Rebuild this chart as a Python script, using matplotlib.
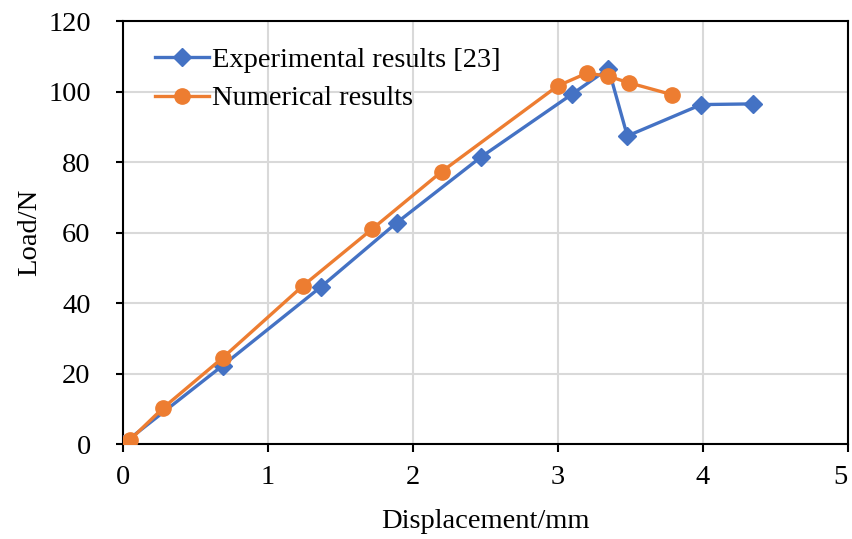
import numpy as np
import matplotlib.pyplot as plt

# Data
expDisp = [0.0, 0.69, 1.37, 1.89, 2.47, 3.10, 3.35, 3.48, 3.99, 4.35]
expLoad = [0.0, 22.3, 44.7, 62.8, 81.4, 99.3, 106.5, 87.4, 96.3, 96.5]

numDisp = [0.03, 0.05, 0.28, 0.69, 1.24, 1.72, 2.20, 3.00, 3.20, 3.345, 3.49, 3.79]
numLoad = [0.0, 1.2, 10.3, 24.5, 44.8, 61.0, 77.3, 101.6, 105.2, 104.4, 102.5, 99.1]

xTicks = [0, 1, 2, 3, 4, 5]
yTicks = [0, 20, 40, 60, 80, 100, 120]

plt.rcParams['font.family'] = ['Liberation Serif', 'DejaVu Serif']
plt.rcParams['font.size'] = 20.5

fig = plt.figure(figsize=(8.52, 5.39), dpi=100)
ax = fig.add_axes([0.144, 0.176, 0.851, 0.785])

ax.plot(expDisp, expLoad, color='#4472C4', linewidth=2.4, marker='D', markersize=9.5,
        label='Experimental results [23]', zorder=3)
ax.plot(numDisp, numLoad, color='#ED7D31', linewidth=2.4, marker='o', markersize=11,
        label='Numerical results', zorder=4)

ax.set_xlim(0, 5)
ax.set_ylim(0, 120)
ax.set_xticks(xTicks)
ax.set_yticks(yTicks)

ax.grid(True, color='#d9d9d9', linewidth=1.5)
ax.set_axisbelow(True)
for s in ax.spines.values():
    s.set_linewidth(1.5)
    s.set_color('black')
ax.tick_params(axis='y', direction='out', length=5, width=1.5, pad=18)
ax.tick_params(axis='x', direction='out', length=6, width=1.5, pad=9)

# keep the last x label inside the figure
ax.get_xticklabels()[-1].set_horizontalalignment('right')

ax.set_xlabel('Displacement/mm', labelpad=14)
ax.set_ylabel('Load/N', labelpad=4)

ax.legend(loc='upper left', frameon=False, handlelength=1.9, handletextpad=0.1,
          borderaxespad=0.0, labelspacing=0.45, bbox_to_anchor=(0.029, 0.966))

fig.savefig('out.png', dpi=100)
